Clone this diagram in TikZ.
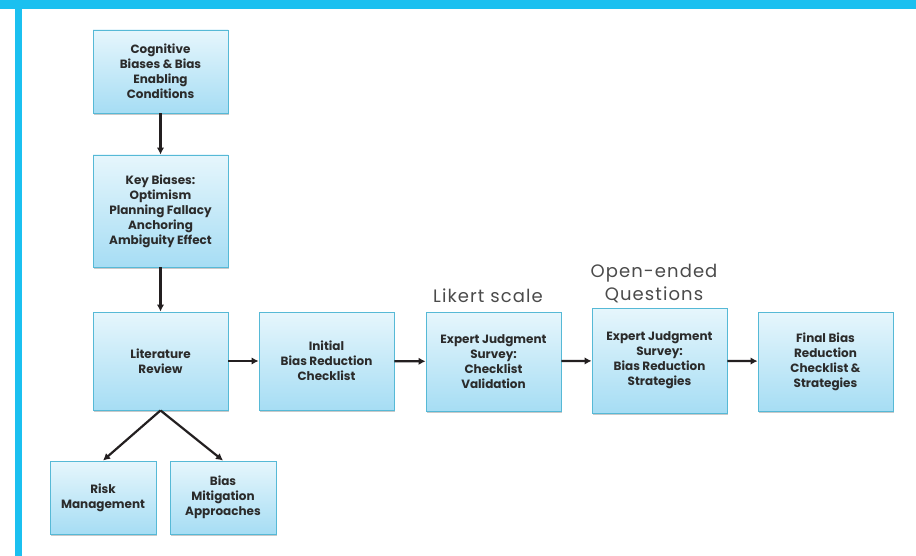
\documentclass[tikz,border=0pt]{standalone}
\usepackage{fontspec}
\setmainfont{Poppins}
\usetikzlibrary{arrows.meta,shadows}
\definecolor{frame}{HTML}{1BC0F0}
\definecolor{boxtop}{HTML}{E6F6FC}
\definecolor{boxbot}{HTML}{A6DDF4}
\definecolor{boxline}{HTML}{56B9D6}
\definecolor{txt}{HTML}{2B2B2B}
\definecolor{arr}{HTML}{231F20}
\begin{document}
\begin{tikzpicture}[x=1pt,y=-1pt,
  box/.style={draw=boxline, line width=0.9pt, top color=boxtop, bottom color=boxbot,
    drop shadow={shadow xshift=1.2pt, shadow yshift=-1.8pt, opacity=0.35, fill=black!60},
    align=center, inner sep=2pt, text=txt,
    font=\fontsize{12}{15}\selectfont\bfseries},
  conn/.style={draw=arr, line width=2.2pt, -{Latex[length=7pt,width=7.5pt]}},
  lbl/.style={text=txt!85, font=\fontsize{18}{23}\selectfont\addfontfeature{LetterSpace=6}, align=center}]
\useasboundingbox (0,0) rectangle (916,556);
\fill[white] (0,0) rectangle (916,556);
\fill[frame] (0,0) rectangle (916,9);
\fill[frame] (15,0) rectangle (22,556);

\node[box, minimum width=135, minimum height=83] (cb) at (160.5,71.5)
  {Cognitive\\Biases \& Bias\\Enabling\\Conditions};
\node[box, minimum width=135, minimum height=112] (kb) at (160.5,211)
  {Key Biases:\\Optimism\\Planning Fallacy\\Anchoring\\Ambiguity Effect};
\node[box, minimum width=135, minimum height=98] (lr) at (160.5,361)
  {Literature\\Review};
\node[box, minimum width=135, minimum height=98] (ib) at (326.5,361)
  {Initial\\Bias Reduction\\Checklist};
\node[box, minimum width=135, minimum height=99] (e1) at (493.5,361.5)
  {Expert Judgment\\Survey:\\Checklist\\Validation};
\node[box, minimum width=135, minimum height=105] (e2) at (659.5,360.5)
  {Expert Judgment\\Survey:\\Bias Reduction\\Strategies};
\node[box, minimum width=135, minimum height=99] (fb) at (825.5,361.5)
  {Final Bias\\Reduction\\Checklist \&\\Strategies};
\node[box, minimum width=106, minimum height=73] (rm) at (103,497.5)
  {Risk\\Management};
\node[box, minimum width=106, minimum height=73] (bm) at (223,497.5)
  {Bias\\Mitigation\\Approaches};

\node[lbl, anchor=base] (lk) at (488,302) {Likert scale};
\node[lbl, anchor=base] (oe) at (654,300) {Open-ended\\Questions};

\draw[conn] (cb) -- (kb);
\draw[conn] (kb) -- (lr);
\draw[conn] (lr) -- (ib);
\draw[conn] (ib) -- (e1);
\draw[conn] (e1) -- (e2);
\draw[conn] (e2) -- (fb);
\draw[conn] (lr.south) -- (rm.north);
\draw[conn] (lr.south) -- (bm.north);
\end{tikzpicture}
\end{document}
